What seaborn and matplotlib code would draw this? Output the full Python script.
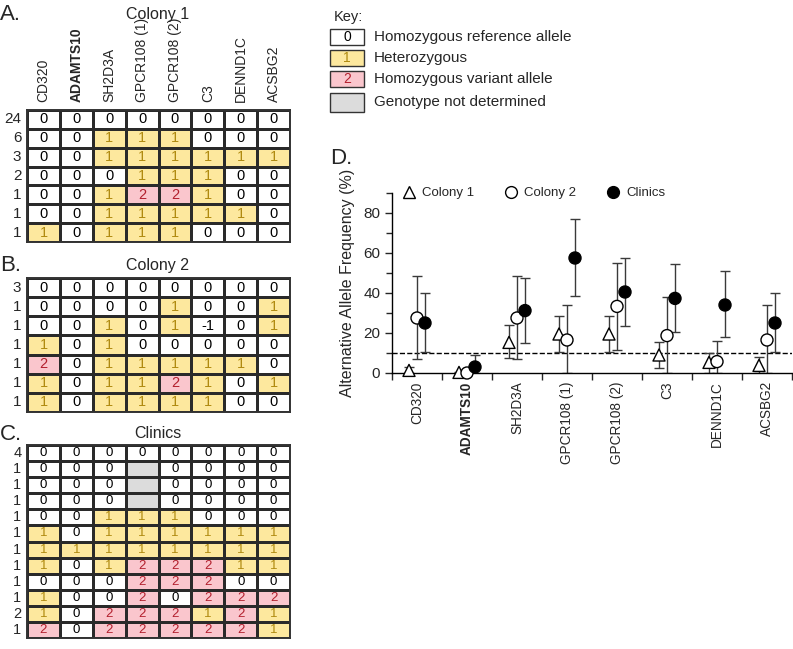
import matplotlib
matplotlib.use("Agg")
import matplotlib.pyplot as plt
import numpy as np
import pandas as pd
import seaborn as sns
from matplotlib.colors import ListedColormap
from matplotlib.lines import Line2D
from matplotlib.patches import Rectangle

sns.set_style("white")
plt.rcParams["font.family"] = ["Liberation Sans", "DejaVu Sans"]

W, H = 793, 649

genes = ["CD320", "ADAMTS10", "SH2D3A", "GPCR108 (1)", "GPCR108 (2)",
         "C3", "DENND1C", "ACSBG2"]

# genotype tables (None = genotype not determined)
colony1_counts = [24, 6, 3, 2, 1, 1, 1]
colony1 = [
    [0, 0, 0, 0, 0, 0, 0, 0],
    [0, 0, 1, 1, 1, 0, 0, 0],
    [0, 0, 1, 1, 1, 1, 1, 1],
    [0, 0, 0, 1, 1, 1, 0, 0],
    [0, 0, 1, 2, 2, 1, 0, 0],
    [0, 0, 1, 1, 1, 1, 1, 0],
    [1, 0, 1, 1, 1, 0, 0, 0],
]
colony2_counts = [3, 1, 1, 1, 1, 1, 1]
colony2 = [
    [0, 0, 0, 0, 0, 0, 0, 0],
    [0, 0, 0, 0, 1, 0, 0, 1],
    [0, 0, 1, 0, 1, -1, 0, 1],
    [1, 0, 1, 0, 0, 0, 0, 0],
    [2, 0, 1, 1, 1, 1, 1, 0],
    [1, 0, 1, 1, 2, 1, 0, 1],
    [1, 0, 1, 1, 1, 1, 0, 0],
]
clinics_counts = [4, 1, 1, 1, 1, 1, 1, 1, 1, 1, 2, 1]
clinics = [
    [0, 0, 0, 0, 0, 0, 0, 0],
    [0, 0, 0, None, 0, 0, 0, 0],
    [0, 0, 0, None, 0, 0, 0, 0],
    [0, 0, 0, None, 0, 0, 0, 0],
    [0, 0, 1, 1, 1, 0, 0, 0],
    [1, 0, 1, 1, 1, 1, 1, 1],
    [1, 1, 1, 1, 1, 1, 1, 1],
    [1, 0, 1, 2, 2, 2, 1, 1],
    [0, 0, 0, 2, 2, 2, 0, 0],
    [1, 0, 0, 2, 0, 2, 2, 2],
    [1, 0, 2, 2, 2, 1, 2, 1],
    [2, 0, 2, 2, 2, 2, 2, 1],
]

key_labels = ["Homozygous reference allele", "Heterozygous",
              "Homozygous variant allele", "Genotype not determined"]
key_text = ["0", "1", "2", ""]

# allele frequencies (%) with lower / upper error limits
groups = ["Colony 1", "Colony 2", "Clinics"]
freq = {
    "Colony 1": [1.3, 0.3, 15.3, 19.5, 19.5, 9.0, 5.3, 3.8],
    "Colony 2": [27.5, 0.0, 27.5, 16.5, 33.3, 18.7, 5.7, 16.5],
    "Clinics": [25.0, 3.0, 31.2, 57.5, 40.5, 37.3, 34.0, 25.0],
}
low = {
    "Colony 1": [0.0, 0.0, 7.5, 10.5, 10.5, 2.5, 0.0, 0.0],
    "Colony 2": [7.0, 0.0, 7.0, 0.0, 11.3, 0.0, 0.0, 0.0],
    "Clinics": [10.3, 0.0, 15.0, 38.3, 23.5, 20.5, 18.0, 10.3],
}
high = {
    "Colony 1": [3.0, 0.5, 24.0, 28.5, 28.5, 15.5, 10.0, 8.0],
    "Colony 2": [48.3, 0.0, 48.3, 34.0, 54.8, 38.0, 16.0, 34.0],
    "Clinics": [40.0, 9.0, 47.5, 77.0, 57.3, 54.3, 50.8, 40.0],
}

WHITE, YELLOW, PINK, GREY = "#ffffff", "#fde89e", "#fac6cd", "#dcdcdc"
TXT = {0: "black", -1: "black", 1: "#b08a10", 2: "#b3202e"}


def box(x0, y0, x1, y1):
    return [x0 / W, 1 - y1 / H, (x1 - x0) / W, (y1 - y0) / H]


def geno_table(ax, table, counts, fs, lab_fs, top_labels=False):
    codes = np.array([[3 if v is None else max(v, 0) for v in row] for row in table])
    annot = np.array([["" if v is None else str(v) for v in row] for row in table])
    sns.heatmap(codes, ax=ax, cmap=ListedColormap([WHITE, YELLOW, PINK, GREY]),
                vmin=-0.5, vmax=3.5, annot=annot, fmt="", cbar=False,
                linewidths=0.8, linecolor="#2a2a2a",
                annot_kws={"fontsize": fs},
                xticklabels=genes if top_labels else False,
                yticklabels=counts)
    flat = [v for row in table for v in row]
    for t, v in zip(ax.texts, flat):
        if v is not None:
            t.set_color(TXT[v])
    for s in ax.spines.values():
        s.set_visible(True)
        s.set_linewidth(1.4)
        s.set_color("#333333")
    ax.tick_params(axis="y", length=0, pad=4, labelsize=lab_fs, rotation=0)
    if top_labels:
        ax.xaxis.tick_top()
        ax.tick_params(axis="x", length=0, pad=6, labelsize=10, rotation=90)
        for lab in ax.get_xticklabels():
            if lab.get_text() == "ADAMTS10":
                lab.set_fontweight("bold")
    ax.set_xlabel("")
    ax.set_ylabel("")


fig = plt.figure(figsize=(W / 100, H / 100), dpi=100)

axA = fig.add_axes(box(27, 110, 290, 242))
geno_table(axA, colony1, colony1_counts, 10.5, 11, top_labels=True)
axB = fig.add_axes(box(27, 278, 290, 412))
geno_table(axB, colony2, colony2_counts, 10.5, 11)
axC = fig.add_axes(box(27, 445, 290, 638))
geno_table(axC, clinics, clinics_counts, 9.5, 10.5)

for letter, title, y in [("A.", "Colony 1", 14), ("B.", "Colony 2", 265), ("C.", "Clinics", 434)]:
    fig.text(0 / W, 1 - y / H, letter, fontsize=16, va="center", ha="left")
    fig.text(158 / W, 1 - y / H, title, fontsize=11.5, va="center", ha="center")

# key
axK = fig.add_axes([0, 0, 1, 1], facecolor="none")
axK.set_xlim(0, W)
axK.set_ylim(H, 0)
axK.axis("off")
axK.text(334, 17, "Key:", fontsize=10.5, va="center")
key_cols = [WHITE, YELLOW, PINK, GREY]
key_y = [37, 58, 79, 102]
for lab, txt, col, yc, code in zip(key_labels, key_text, key_cols, key_y, [0, 1, 2, 0]):
    hgt = 19 if txt == "" else 16
    axK.add_patch(Rectangle((330, yc - hgt / 2), 34, hgt, facecolor=col,
                            edgecolor="#333333", lw=1))
    axK.text(347, yc, txt, ha="center", va="center", fontsize=10, color=TXT[code])
    axK.text(374, yc, lab, ha="left", va="center", fontsize=11)
axK.text(330, 159, "D.", fontsize=16, va="center", ha="left")

# panel D
rows = []
offsets = {"Colony 1": -0.16, "Colony 2": 0.0, "Clinics": 0.16}
for g in groups:
    for i, gene in enumerate(genes):
        rows.append({"gene": gene, "group": g, "x": i + 0.5 + offsets[g],
                     "freq": freq[g][i], "lo": low[g][i], "hi": high[g][i]})
df = pd.DataFrame(rows)

axD = fig.add_axes(box(392, 193, 792, 373))
for g in groups:
    d = df[df["group"] == g]
    axD.errorbar(d["x"], d["freq"],
                 yerr=[d["freq"] - d["lo"], d["hi"] - d["freq"]],
                 fmt="none", ecolor="#3a3a3a", elinewidth=1, capsize=3.5,
                 capthick=1, zorder=2)
sns.scatterplot(data=df, x="x", y="freq", hue="group", style="group",
                markers={"Colony 1": "^", "Colony 2": "o", "Clinics": "o"},
                palette={"Colony 1": "white", "Colony 2": "white", "Clinics": "black"},
                edgecolor="black", linewidth=1, s=75, legend=False, zorder=3,
                clip_on=False, ax=axD)
axD.axhline(10, ls="--", color="black", lw=1, zorder=1)

axD.set_xlim(0, 8)
axD.set_ylim(0, 90)
axD.set_xticks(np.arange(0, 9))
axD.set_xticklabels([])
axD.set_xticks(np.arange(8) + 0.5, minor=True)
axD.set_xticklabels(genes, minor=True, rotation=90, fontsize=9.8, va="top")
for lab in axD.get_xticklabels(minor=True):
    if lab.get_text() == "ADAMTS10":
        lab.set_fontweight("bold")
axD.set_yticks([0, 20, 40, 60, 80])
axD.set_yticks(np.arange(10, 91, 20), minor=True)
axD.tick_params(axis="y", labelsize=11, direction="out", length=5, width=1, left=True)
axD.tick_params(axis="y", which="minor", direction="out", length=4, width=1, left=True)
axD.tick_params(axis="x", which="major", direction="out", length=5, width=1, bottom=True)
axD.tick_params(axis="x", which="minor", length=0, pad=6)
axD.set_xlabel("")
axD.set_ylabel("Alternative Allele Frequency (%)", fontsize=11.5, labelpad=6)
sns.despine(ax=axD)
for s in ["left", "bottom"]:
    axD.spines[s].set_color("black")
    axD.spines[s].set_linewidth(1)

handles = [
    Line2D([], [], ls="none", marker="^", mfc="white", mec="black", ms=8.5),
    Line2D([], [], ls="none", marker="o", mfc="white", mec="black", ms=8.5),
    Line2D([], [], ls="none", marker="o", mfc="black", mec="black", ms=8.5),
]
axD.legend(handles, groups, ncol=3, frameon=False, loc="center left",
           bbox_to_anchor=(0.025, 1.0), fontsize=9.5, handlelength=1,
           handletextpad=0.5, columnspacing=2.3, borderaxespad=0, borderpad=0)

fig.savefig("out.png", dpi=100)
